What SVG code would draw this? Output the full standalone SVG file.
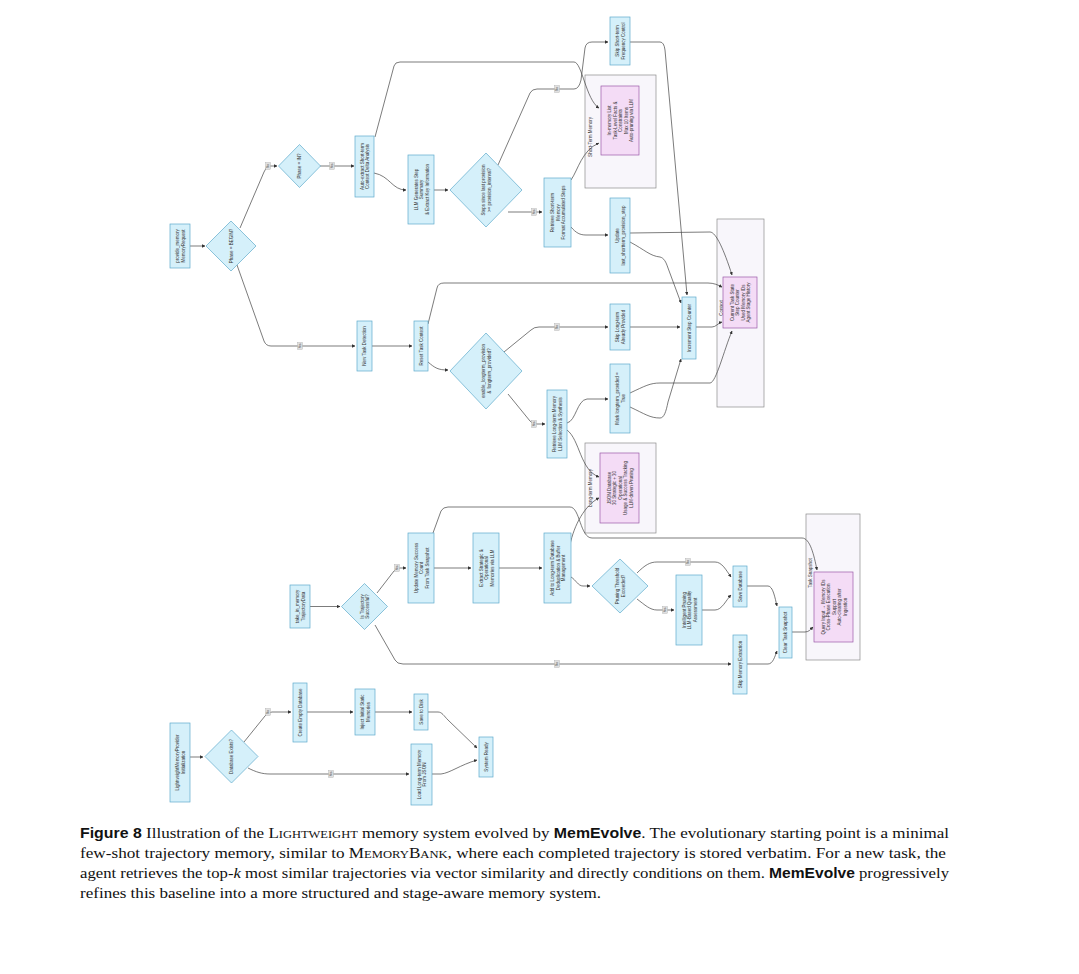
<svg xmlns="http://www.w3.org/2000/svg" width="1079" height="974" viewBox="0 0 1079 974">
<defs>
<marker id="ah" viewBox="0 0 10 10" refX="9" refY="5" markerWidth="3.4" markerHeight="3.4" markerUnits="userSpaceOnUse" orient="auto"><path d="M0,0 L10,5 L0,10 z" fill="#333"/></marker>
<style>
.n{fill:#d5f0fa;stroke:#5eaacb;stroke-width:0.7}
.p{fill:#f4dcf6;stroke:#9a5aa8;stroke-width:0.7}
.g{fill:#f8f6fb;stroke:#8c8c8c;stroke-width:0.7}
.t{font-family:"Liberation Sans",Arial,sans-serif;font-size:4.5px;fill:#333;text-anchor:middle;dominant-baseline:central}
.gt{font-family:"Liberation Sans",Arial,sans-serif;font-size:4.5px;fill:#333;text-anchor:middle;dominant-baseline:central}
.c path{fill:none;stroke:#444;stroke-width:0.7;marker-end:url(#ah)}
.lb rect{fill:#e0e0e0;stroke:#999999;stroke-width:0.3}
.lb text{font-family:"Liberation Sans",Arial,sans-serif;font-size:2.8px;fill:#333;text-anchor:middle;dominant-baseline:central}
.cap{font-family:"Liberation Serif","Times New Roman",serif;font-size:15px;fill:#111}
.capb{font-family:"Liberation Sans",Arial,sans-serif;font-weight:bold;font-size:14px}
</style>
</defs>
<rect width="1079" height="974" fill="#ffffff"/>

<g id="g_shortterm">
<rect class="g" x="585" y="75" width="71" height="113"/>
<text class="gt" font-family="Liberation Sans, sans-serif" transform="translate(590 137) rotate(-90)">Short-Term Memory</text>
</g>
<g id="g_context">
<rect class="g" x="717" y="219" width="47" height="188"/>
<text class="gt" font-family="Liberation Sans, sans-serif" transform="translate(721 308) rotate(-90)">Context</text>
</g>
<g id="g_longterm">
<rect class="g" x="585" y="443" width="71" height="90"/>
<text class="gt" font-family="Liberation Sans, sans-serif" transform="translate(590 488) rotate(-90)">Long-term Memory</text>
</g>
<g id="g_snapshot">
<rect class="g" x="806" y="514" width="54" height="146"/>
<text class="gt" font-family="Liberation Sans, sans-serif" transform="translate(810 573) rotate(-90)">Task Snapshot</text>
</g>

<g id="connectors" class="c">
<path d="M190,246 L205,246"/>
<path d="M240,228 L264,172 Q266,166 270,166 L277,166"/>
<path d="M237,265 L264,341 Q266,346 271,346 L355,346"/>
<path d="M320,166 L354,166"/>
<path d="M374,173 C390,176 392,190 406,190"/>
<path d="M375,137 L394,66 Q395,62 400,62 L574,62 C582,62 586,100 599,108"/>
<path d="M434,190 L448,190"/>
<path d="M498,165 L530,93 Q532,89 537,89 L574,89 Q579,89 581,80 L585,48 Q586,42 592,42 L608,42"/>
<path d="M508,212 L542,212"/>
<path d="M630,42 L660,42 Q664,42 665,50 L687,295"/>
<path d="M571,180 C578,170 582,150 599,143"/>
<path d="M571,227 C576,233 580,235 586,235 L608,235"/>
<path d="M630,233 L710,232 C716,232 724,250 732,275"/>
<path d="M630,242 C645,250 650,256 660,257 C664,258 666,262 668,268 L681,303"/>
<path d="M372,346 L412,346"/>
<path d="M428,362 C435,368 438,370 448,370"/>
<path d="M428,324 L437,288 Q438,283 444,283 L708,283 C714,283 718,285 722,287"/>
<path d="M504,352 L531,330 Q534,327 539,327 L608,327"/>
<path d="M508,394 L530,421 Q532,424 537,424 L545,424"/>
<path d="M630,327 L680,327"/>
<path d="M630,407 C645,414 650,418 660,418 C664,418 666,412 668,402 L681,359"/>
<path d="M630,393 C645,386 650,383 660,383 L710,383 C716,383 724,350 732,331"/>
<path d="M696,327 L712,327 C716,327 718,323 722,322"/>
<path d="M567,423 C576,421 577,400 587,399 L608,399"/>
<path d="M567,430 C580,440 580,470 599,477"/>
<path d="M310,606.5 L340,606.5"/>
<path d="M377,593 L394,571 Q396,568 400,568 L406,568"/>
<path d="M375,625 L395,660 Q397,664 403,664 L731,664"/>
<path d="M434,568 L471,568"/>
<path d="M499,568 L542,568"/>
<path d="M433,533 L441,511 Q443,507 448,507 L570,507 C580,507 580,538 592,538 L802,538 C810,538 814,555 817,570"/>
<path d="M570,545 C574,525 585,505 599,498"/>
<path d="M571,577 C576,580 578,586 583,586 L590,586"/>
<path d="M637,573 C645,565 650,562 657,562 L715,562 C722,562 726,570 731,577"/>
<path d="M637,599 C645,605 650,610 657,610 L674,610"/>
<path d="M702,610 L715,610 C722,610 726,600 731,595"/>
<path d="M747,586 L768,586 C773,586 775,598 777,606"/>
<path d="M747,664 L768,664 C773,664 775,656 777,651"/>
<path d="M792,632 L805,632 C809,632 811,629 813,627"/>
<path d="M190,757 L203,757"/>
<path d="M244,742 L265,716 Q267,712 272,712 L291,712"/>
<path d="M248,768 C256,772 262,774 270,774 L409,774"/>
<path d="M307,712 L353,712"/>
<path d="M375,712 L412,712"/>
<path d="M428,712 L438,712 C442,712 444,716 448,720 L477,748"/>
<path d="M432,774 L441,774 C450,773 460,765 477,760"/>
<g class="lb">
<g transform="translate(268 166)"><rect x="-2.5" y="-3.5" width="5" height="7"/><text transform="rotate(-90)">No</text></g>
<g transform="translate(300 346)"><rect x="-2.5" y="-3.5" width="5" height="7"/><text transform="rotate(-90)">Yes</text></g>
<g transform="translate(332 166)"><rect x="-2.5" y="-3.5" width="5" height="7"/><text transform="rotate(-90)">Yes</text></g>
<g transform="translate(557 89)"><rect x="-2.5" y="-3.5" width="5" height="7"/><text transform="rotate(-90)">No</text></g>
<g transform="translate(534 212)"><rect x="-2.5" y="-3.5" width="5" height="7"/><text transform="rotate(-90)">Yes</text></g>
<g transform="translate(557 327)"><rect x="-2.5" y="-3.5" width="5" height="7"/><text transform="rotate(-90)">No</text></g>
<g transform="translate(534 424)"><rect x="-2.5" y="-3.5" width="5" height="7"/><text transform="rotate(-90)">Yes</text></g>
<g transform="translate(397 568)"><rect x="-2.5" y="-3.5" width="5" height="7"/><text transform="rotate(-90)">Yes</text></g>
<g transform="translate(557 664)"><rect x="-2.5" y="-3.5" width="5" height="7"/><text transform="rotate(-90)">No</text></g>
<g transform="translate(688 562)"><rect x="-2.5" y="-3.5" width="5" height="7"/><text transform="rotate(-90)">No</text></g>
<g transform="translate(665 610)"><rect x="-2.5" y="-3.5" width="5" height="7"/><text transform="rotate(-90)">Yes</text></g>
<g transform="translate(268 712)"><rect x="-2.5" y="-3.5" width="5" height="7"/><text transform="rotate(-90)">No</text></g>
<g transform="translate(331 774)"><rect x="-2.5" y="-3.5" width="5" height="7"/><text transform="rotate(-90)">Yes</text></g>
</g>
</g>

<g id="nodes" font-family="Liberation Sans, Arial, sans-serif">
<g id="n_provide"><rect class="n" x="170" y="224" width="20" height="44"/><text class="t" transform="translate(180 246) rotate(-90)"><tspan x="0" y="-2.75">provide_memory</tspan><tspan x="0" y="2.75">MemoryRequest</tspan></text></g>
<g id="d_begin"><polygon class="n" points="231,221 256,246 231,271 206,246"/><text class="t" transform="translate(231 246) rotate(-90)">Phase = BEGIN?</text></g>
<g id="d_in"><polygon class="n" points="299.5,144.5 320.5,166 299.5,187.5 278.5,166"/><text class="t" transform="translate(299.5 166) rotate(-90)">Phase = IN?</text></g>
<g id="n_auto"><rect class="n" x="355" y="136" width="19" height="61"/><text class="t" transform="translate(364.5 166.5) rotate(-90)"><tspan x="0" y="-2.75">Auto-extract Short-term</tspan><tspan x="0" y="2.75">Context Delta Analysis</tspan></text></g>
<g id="n_llm"><rect class="n" x="408" y="155" width="26" height="69"/><text class="t" transform="translate(421 189.5) rotate(-90)"><tspan x="0" y="-5.5">LLM Generates Step</tspan><tspan x="0" y="0">Summary</tspan><tspan x="0" y="5.5">&amp; Extract Key Information</tspan></text></g>
<g id="d_steps"><polygon class="n" points="486,153 522,190 486,227 450,190"/><text class="t" transform="translate(486 190) rotate(-90)"><tspan x="0" y="-2.75">Steps since last provision</tspan><tspan x="0" y="2.75">&gt;= provision_interval?</tspan></text></g>
<g id="n_retst"><rect class="n" x="544" y="178" width="27" height="69"/><text class="t" transform="translate(557.5 212.5) rotate(-90)"><tspan x="0" y="-5.5">Retrieve Short-term</tspan><tspan x="0" y="0">Memory</tspan><tspan x="0" y="5.5">Format Accumulated Steps</tspan></text></g>
<g id="n_skipst"><rect class="n" x="610" y="17" width="20" height="48"/><text class="t" transform="translate(620 41) rotate(-90)"><tspan x="0" y="-2.75">Skip Short-term</tspan><tspan x="0" y="2.75">Frequency Control</tspan></text></g>
<g id="n_stlist"><rect class="p" x="601" y="86" width="38" height="69"/><text class="t" transform="translate(620 120.5) rotate(-90)"><tspan x="0" y="-11">In-memory List</tspan><tspan x="0" y="-5.5">Task-Level Facts &amp;</tspan><tspan x="0" y="0">Constraints</tspan><tspan x="0" y="5.5">Max 10 Items</tspan><tspan x="0" y="11">Auto-pruning via LLM</tspan></text></g>
<g id="n_update"><rect class="n" x="610" y="198" width="20" height="75"/><text class="t" transform="translate(620 235.5) rotate(-90)"><tspan x="0" y="-2.75">Update</tspan><tspan x="0" y="2.75">last_shortterm_provision_step</tspan></text></g>
<g id="n_inc"><rect class="n" x="682" y="297" width="14" height="62"/><text class="t" transform="translate(689 328) rotate(-90)">Increment Step Counter</text></g>
<g id="n_ctxstate"><rect class="p" x="723" y="277" width="34" height="51"/><text class="t" transform="translate(740 302.5) rotate(-90)"><tspan x="0" y="-8.25">Current Task State</tspan><tspan x="0" y="-2.75">Step Counter</tspan><tspan x="0" y="2.75">Used Memory IDs</tspan><tspan x="0" y="8.25">Agent Stage History</tspan></text></g>
<g id="n_newtask"><rect class="n" x="357" y="321" width="15" height="50"/><text class="t" transform="translate(364.5 346) rotate(-90)">New Task Detection</text></g>
<g id="n_reset"><rect class="n" x="414" y="321" width="14" height="50"/><text class="t" transform="translate(421 346) rotate(-90)">Reset Task Context</text></g>
<g id="d_enable"><polygon class="n" points="486,333 522,371 486,409 450,371"/><text class="t" transform="translate(486 371) rotate(-90)"><tspan x="0" y="-2.75">enable_longterm_provision</tspan><tspan x="0" y="2.75">&amp; !longterm_provided?</tspan></text></g>
<g id="n_skiplt"><rect class="n" x="610" y="304" width="20" height="46"/><text class="t" transform="translate(620 327) rotate(-90)"><tspan x="0" y="-2.75">Skip Long-term</tspan><tspan x="0" y="2.75">Already Provided</tspan></text></g>
<g id="n_mark"><rect class="n" x="610" y="364" width="20" height="69"/><text class="t" transform="translate(620 398.5) rotate(-90)"><tspan x="0" y="-2.75">Mark longterm_provided =</tspan><tspan x="0" y="2.75">True</tspan></text></g>
<g id="n_retlt"><rect class="n" x="547" y="390" width="20" height="68"/><text class="t" transform="translate(557 424) rotate(-90)"><tspan x="0" y="-2.75">Retrieve Long-term Memory</tspan><tspan x="0" y="2.75">LLM Selection &amp; Synthesis</tspan></text></g>
<g id="n_ltdb"><rect class="p" x="600" y="453" width="39" height="70"/><text class="t" transform="translate(619.5 488) rotate(-90)"><tspan x="0" y="-11">JSON Database</tspan><tspan x="0" y="-5.5">30 Strategic + 30</tspan><tspan x="0" y="0">Operational</tspan><tspan x="0" y="5.5">Usage &amp; Success Tracking</tspan><tspan x="0" y="11">LLM-driven Pruning</tspan></text></g>
<g id="n_takein"><rect class="n" x="290" y="585" width="20" height="43"/><text class="t" transform="translate(300 606.5) rotate(-90)"><tspan x="0" y="-2.75">take_in_memory</tspan><tspan x="0" y="2.75">TrajectoryData</tspan></text></g>
<g id="d_traj"><polygon class="n" points="364.5,583.5 387.5,606.5 364.5,629.5 341.5,606.5"/><text class="t" transform="translate(364.5 606.5) rotate(-90)"><tspan x="0" y="-2.75">Is Trajectory</tspan><tspan x="0" y="2.75">Successful?</tspan></text></g>
<g id="n_updsucc"><rect class="n" x="408" y="533" width="26" height="70"/><text class="t" transform="translate(421 568) rotate(-90)"><tspan x="0" y="-5.5">Update Memory Success</tspan><tspan x="0" y="0">Count</tspan><tspan x="0" y="5.5">From Task Snapshot</tspan></text></g>
<g id="n_extract"><rect class="n" x="473" y="533" width="26" height="70"/><text class="t" transform="translate(486 568) rotate(-90)"><tspan x="0" y="-5.5">Extract Strategic &amp;</tspan><tspan x="0" y="0">Operational</tspan><tspan x="0" y="5.5">Memories via LLM</tspan></text></g>
<g id="n_addlt"><rect class="n" x="544" y="533" width="27" height="70"/><text class="t" transform="translate(557.5 568) rotate(-90)"><tspan x="0" y="-5.5">Add to Long-term Database</tspan><tspan x="0" y="0">Deduplication &amp; Buffer</tspan><tspan x="0" y="5.5">Management</tspan></text></g>
<g id="d_prune"><polygon class="n" points="620,559 648,586 620,613 592,586"/><text class="t" transform="translate(620 586) rotate(-90)"><tspan x="0" y="-2.75">Pruning Threshold</tspan><tspan x="0" y="2.75">Exceeded?</tspan></text></g>
<g id="n_intprune"><rect class="n" x="676" y="575" width="26" height="70"/><text class="t" transform="translate(689 610) rotate(-90)"><tspan x="0" y="-5.5">Intelligent Pruning</tspan><tspan x="0" y="0">LLM-Based Quality</tspan><tspan x="0" y="5.5">Assessment</tspan></text></g>
<g id="n_savedb"><rect class="n" x="733" y="566" width="14" height="41"/><text class="t" transform="translate(740 586.5) rotate(-90)">Save Database</text></g>
<g id="n_skipext"><rect class="n" x="733" y="635" width="14" height="59"/><text class="t" transform="translate(740 664.5) rotate(-90)">Skip Memory Extraction</text></g>
<g id="n_clear"><rect class="n" x="779" y="607" width="13" height="51"/><text class="t" transform="translate(785.5 632.5) rotate(-90)">Clear Task Snapshot</text></g>
<g id="n_snapdata"><rect class="p" x="814" y="572" width="39" height="70"/><text class="t" transform="translate(833.5 607) rotate(-90)"><tspan x="0" y="-11">Query Input → Memory IDs</tspan><tspan x="0" y="-5.5">Cross-Phase Execution</tspan><tspan x="0" y="0">Support</tspan><tspan x="0" y="5.5">Auto-clearing after</tspan><tspan x="0" y="11">Ingestion</tspan></text></g>
<g id="n_init"><rect class="n" x="170" y="723" width="20" height="79"/><text class="t" transform="translate(180 762.5) rotate(-90)"><tspan x="0" y="-2.75">LightweightMemoryProvider</tspan><tspan x="0" y="2.75">Initialization</tspan></text></g>
<g id="d_db"><polygon class="n" points="231.5,730 258,756.5 231.5,783 205,756.5"/><text class="t" transform="translate(231.5 756.5) rotate(-90)">Database Exists?</text></g>
<g id="n_create"><rect class="n" x="293" y="683" width="14" height="59"/><text class="t" transform="translate(300 712.5) rotate(-90)">Create Empty Database</text></g>
<g id="n_inject"><rect class="n" x="355" y="689" width="20" height="46"/><text class="t" transform="translate(365 712) rotate(-90)"><tspan x="0" y="-2.75">Inject Initial Static</tspan><tspan x="0" y="2.75">Memories</tspan></text></g>
<g id="n_savedisk"><rect class="n" x="414" y="694" width="14" height="36"/><text class="t" transform="translate(421 712) rotate(-90)">Save to Disk</text></g>
<g id="n_loadlt"><rect class="n" x="411" y="744" width="21" height="61"/><text class="t" transform="translate(421.5 774.5) rotate(-90)"><tspan x="0" y="-2.75">Load Long-term Memory</tspan><tspan x="0" y="2.75">From JSON</tspan></text></g>
<g id="n_ready"><rect class="n" x="479" y="737" width="14" height="40"/><text class="t" transform="translate(486 757) rotate(-90)">System Ready</text></g>
</g>

<g id="caption">
<text class="cap" x="80" y="838" textLength="869" lengthAdjust="spacingAndGlyphs"><tspan class="capb">Figure 8</tspan> Illustration of the <tspan font-variant="small-caps">Lightweight</tspan> memory system evolved by <tspan class="capb">MemEvolve</tspan>. The evolutionary starting point is a minimal</text>
<text class="cap" x="80" y="858" textLength="866" lengthAdjust="spacingAndGlyphs">few-shot trajectory memory, similar to <tspan font-variant="small-caps">MemoryBank</tspan>, where each completed trajectory is stored verbatim. For a new task, the</text>
<text class="cap" x="80" y="878" textLength="869" lengthAdjust="spacingAndGlyphs">agent retrieves the top-<tspan font-style="italic">k</tspan> most similar trajectories via vector similarity and directly conditions on them. <tspan class="capb">MemEvolve</tspan> progressively</text>
<text class="cap" x="80" y="898" textLength="521" lengthAdjust="spacingAndGlyphs">refines this baseline into a more structured and stage-aware memory system.</text>
</g>
</svg>
